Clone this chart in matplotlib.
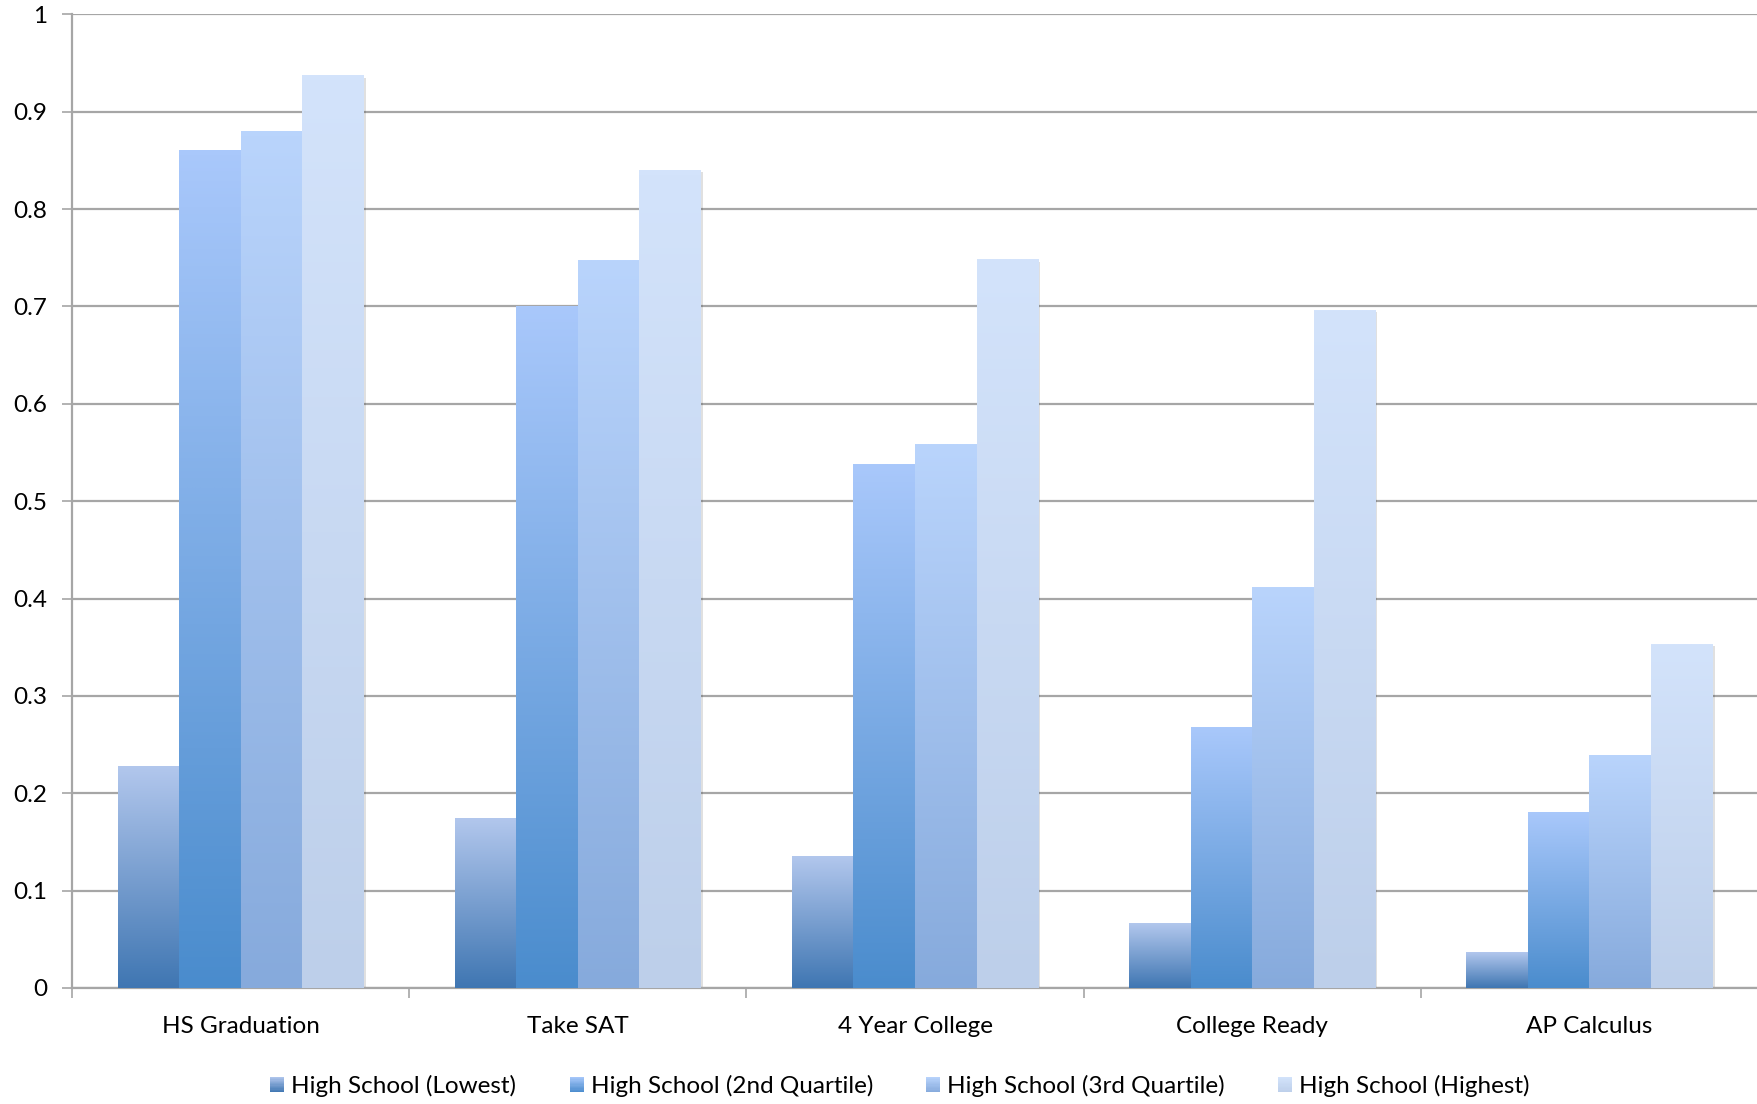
import numpy as np
import matplotlib
matplotlib.use("Agg")
import matplotlib.pyplot as plt
from matplotlib.colors import LinearSegmentedColormap
from matplotlib.patches import Rectangle
from matplotlib.legend_handler import HandlerBase
from matplotlib import patheffects as pe

plt.rcParams['font.family'] = ['Lato', 'DejaVu Sans']

categories = ["HS Graduation", "Take SAT", "4 Year College", "College Ready", "AP Calculus"]
series_names = ["High School (Lowest)", "High School (2nd Quartile)",
                "High School (3rd Quartile)", "High School (Highest)"]
lowest = [0.227, 0.174, 0.135, 0.066, 0.036]
second = [0.860, 0.700, 0.538, 0.268, 0.180]
third = [0.880, 0.747, 0.558, 0.411, 0.239]
highest = [0.937, 0.840, 0.748, 0.696, 0.353]
yticks = [0, 0.1, 0.2, 0.3, 0.4, 0.5, 0.6, 0.7, 0.8, 0.9, 1]
ytick_labels = ["0", "0.1", "0.2", "0.3", "0.4", "0.5", "0.6", "0.7", "0.8", "0.9", "1"]

series = [lowest, second, third, highest]
# (bottom colour, top colour) for each series' vertical gradient
gradients = [("#3f76b2", "#b2c7ed"),
             ("#4a8ccd", "#a9c8fb"),
             ("#86aadc", "#b9d4fc"),
             ("#bdcfea", "#d3e3fb")]
cmaps = [LinearSegmentedColormap.from_list(f"g{i}", g) for i, g in enumerate(gradients)]

W, H = 1758, 1104
fig = plt.figure(figsize=(W / 100, H / 100), dpi=100)
ax = fig.add_axes([72 / W, 1 - 988 / H, 1 - 72 / W, (988 - 14.3) / H])

n_groups = len(categories)
bar_w = 0.1825
x = np.arange(n_groups) + 0.5
grad = np.linspace(0, 1, 256).reshape(-1, 1)

for i, (vals, cmap) in enumerate(zip(series, cmaps)):
    xs = x + (i - 1.5) * bar_w
    bars = ax.bar(xs, vals, width=bar_w, facecolor="none", edgecolor="none", zorder=2)
    for b in bars:
        b.set_path_effects([pe.SimplePatchShadow(offset=(1.5, -1.5), shadow_rgbFace="#000000", alpha=0.12)])
        x0, w, h = b.get_x(), b.get_width(), b.get_height()
        ax.imshow(grad, cmap=cmap, origin="lower", aspect="auto",
                  extent=(x0, x0 + w, 0, h), interpolation="bilinear", zorder=3)

ax.set_xlim(0, n_groups)
ax.set_ylim(0, 1)

fs = 17.5
ax.set_yticks(yticks)
ax.set_yticklabels(ytick_labels)
ax.yaxis.grid(True, color="#a6a6a6", linewidth=1.6, zorder=0)
ax.set_axisbelow(True)
ax.tick_params(axis="y", length=7, width=1.2, color="#a6a6a6", pad=11, labelsize=fs)

ax.set_xticks(np.arange(n_groups + 1))
ax.set_xticklabels([])
ax.set_xticks(x, minor=True)
ax.set_xticklabels(categories, minor=True)
ax.tick_params(axis="x", which="major", length=7, width=1.2, color="#a6a6a6", direction="out")
ax.tick_params(axis="x", which="minor", length=0, pad=20, labelsize=fs)

for s in ["top", "right"]:
    ax.spines[s].set_visible(False)
for s in ["left", "bottom"]:
    ax.spines[s].set_color("#a6a6a6")
    ax.spines[s].set_linewidth(1.6)


class GradientHandler(HandlerBase):
    def __init__(self, cmap):
        super().__init__()
        self.cmap = cmap

    def create_artists(self, legend, orig_handle, xdescent, ydescent, width, height, fontsize, trans):
        n = 12
        artists = []
        for k in range(n):
            c = self.cmap((k + 0.5) / n)
            r = Rectangle((-xdescent, -ydescent + height * k / n), width, height / n + 0.05,
                          facecolor=c, edgecolor="none", transform=trans)
            artists.append(r)
        return artists


handles = [Rectangle((0, 0), 1, 1) for _ in series_names]
handler_map = {h: GradientHandler(c) for h, c in zip(handles, cmaps)}
fig.legend(handles, series_names, handler_map=handler_map, loc="center",
           bbox_to_anchor=(900 / W, 1 - 1086 / H), ncol=4, frameon=False,
           fontsize=fs, handlelength=0.58, handleheight=0.58, handletextpad=0.28,
           columnspacing=2.2)

fig.savefig("out.png", dpi=100)
